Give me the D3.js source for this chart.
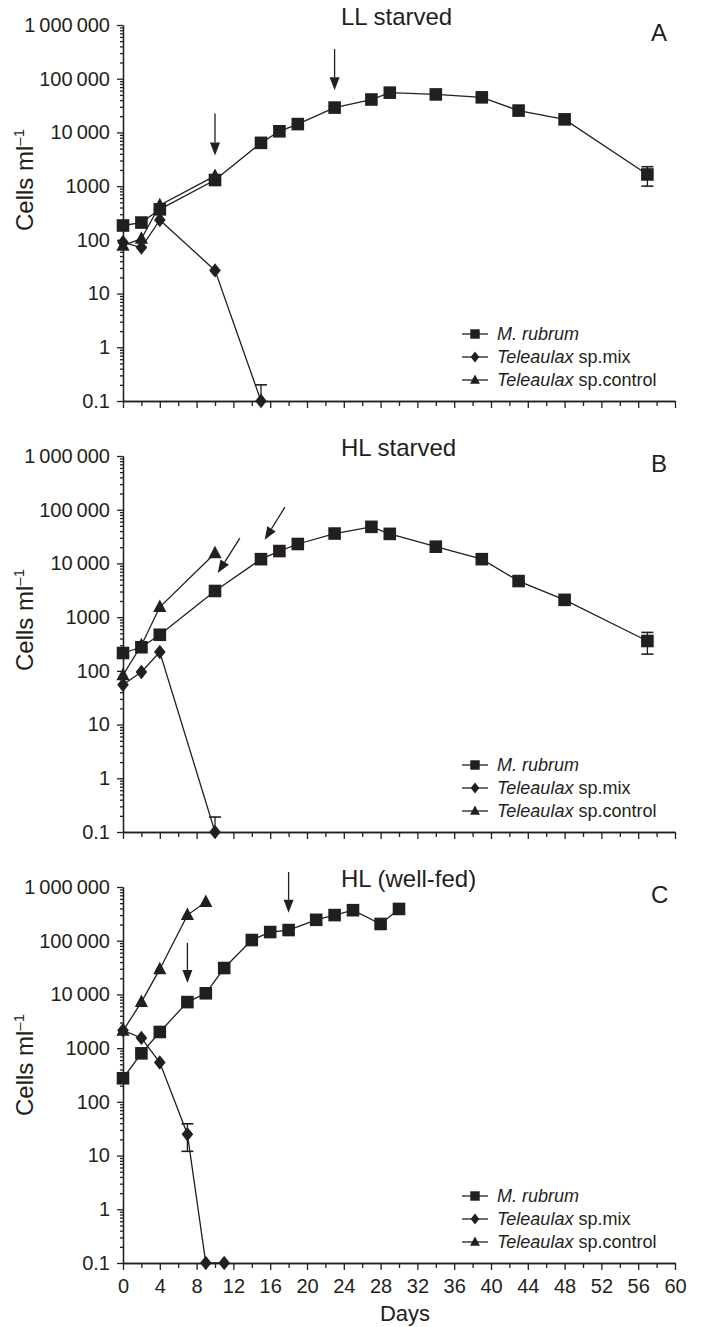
<!DOCTYPE html>
<html>
<head>
<meta charset="utf-8">
<script src="https://cdn.jsdelivr.net/npm/d3@7"></script>
<style>
  body { margin: 0; background: #fff; }
  text { font-family: "Liberation Sans", Arial, Helvetica, sans-serif; fill: #231f20; }
</style>
</head>
<body>
<div id="chart"></div>
<script>
// ---- data ----
var titles = ["LL starved", "HL starved", "HL (well-fed)"];
var letters = ["A", "B", "C"];
var legendNames = [["M. rubrum", ""], ["Teleaulax", " sp.mix"], ["Teleaulax", " sp.control"]];

var yTickValues = [0.1, 1, 10, 100, 1000, 10000, 100000, 1000000];
var yTickLabels = ["0.1", "1", "10", "100", "1000", "10\u2009000", "100\u2009000", "1\u2009000\u2009000"];
var xMajorTicks = [0, 4, 8, 12, 16, 20, 24, 28, 32, 36, 40, 44, 48, 52, 56, 60];
var xMinorTicks = [2, 6, 10, 14, 18, 22, 26, 30, 34, 38, 42, 46, 50, 54, 58];

// panel A: LL starved
var rubrumDaysA = [0, 2, 4, 10, 15, 17, 19, 23, 27, 29, 34, 39, 43, 48, 57];
var rubrumA     = [185, 210, 370, 1300, 6400, 10500, 14300, 29000, 41000, 55000, 51000, 45000, 25500, 17500, 1650];
var mixDaysA    = [0, 2, 4, 10, 15];
var mixA        = [90, 72, 235, 27, 0.1];
var controlDaysA = [0, 2, 4, 10];
var controlA     = [78, 105, 440, 1550];
var errA = [["rubrum", 57, 1000, 2300], ["mix", 15, null, 0.2]];
var arrowsA = [[10, 22500, 10, 3700], [23, 355000, 23, 61000]];

// panel B: HL starved
var rubrumDaysB = [0, 2, 4, 10, 15, 17, 19, 23, 27, 29, 34, 39, 43, 48, 57];
var rubrumB     = [215, 275, 470, 3070, 12000, 17000, 23000, 36000, 48000, 35500, 20500, 12000, 4700, 2100, 360];
var mixDaysB    = [0, 2, 4, 10];
var mixB        = [55, 95, 225, 0.1];
var controlDaysB = [0, 2, 4, 10];
var controlB     = [83, 300, 1540, 15500];
var errB = [["rubrum", 57, 205, 520], ["mix", 10, null, 0.19]];
var arrowsB = [[12.7, 29500, 10.3, 6600], [17.6, 112000, 15.4, 27500]];

// panel C: HL (well-fed)
var rubrumDaysC = [0, 2, 4, 7, 9, 11, 14, 16, 18, 21, 23, 25, 28, 30];
var rubrumC     = [275, 800, 2000, 7200, 10500, 31000, 103000, 145000, 158000, 245000, 300000, 370000, 205000, 390000];
var mixDaysC    = [0, 2, 4, 7, 9, 11];
var mixC        = [2150, 1550, 540, 25, 0.1, 0.1];
var controlDaysC = [0, 2, 4, 7, 9];
var controlC     = [2100, 7200, 29500, 300000, 525000];
var errC = [["mix", 7, 12, 39]];
var arrowsC = [[7, 91000, 7, 16300], [18, 1900000, 18, 330000]];

// ---- layout ----
var width = 702, height = 1327;
var ink = "#231f20";
var panelTops = [25, 456, 887];
var panelH = 376;
var labelCenters = [180, 620, 1065];

var panels = [
  {rubrum: [rubrumDaysA, rubrumA], mix: [mixDaysA, mixA], control: [controlDaysA, controlA], err: errA, arrows: arrowsA},
  {rubrum: [rubrumDaysB, rubrumB], mix: [mixDaysB, mixB], control: [controlDaysB, controlB], err: errB, arrows: arrowsB},
  {rubrum: [rubrumDaysC, rubrumC], mix: [mixDaysC, mixC], control: [controlDaysC, controlC], err: errC, arrows: arrowsC}
];

var svg = d3.select("#chart")
            .append("svg")
            .attr("width", width)
            .attr("height", height);

var x = d3.scaleLinear().domain([0, 60]).range([123, 675]);

var shapes = {
  rubrum: "M-6.3,-6.3h12.6v12.6h-12.6z",
  mix: "M0,-7.2L5.8,0L0,7.2L-5.8,0Z",
  control: "M0,-7.5L6.6,5L-6.6,5Z"
};

function zip(pair) {
  return pair[0].map(function(d, i) { return {day: d, v: pair[1][i]}; });
}

function styleAxis(g) {
  g.attr("color", ink)
   .attr("font-family", "'Liberation Sans', Arial, sans-serif")
   .attr("font-size", 20);
  g.selectAll("path, line").attr("stroke-width", 1.3);
}

function drawPanel(p, i) {
  var top = panelTops[i];
  var bottom = top + panelH;
  var y = d3.scaleLog().domain([0.1, 1e6]).range([bottom, top]);
  var g = svg.append("g");

  // minor log ticks
  var minors = [];
  yTickValues.slice(0, -1).forEach(function(d) {
    for (var k = 2; k < 10; k++) minors.push(d * k);
  });
  g.append("g")
   .attr("transform", "translate(" + x(0) + ",0)")
   .call(d3.axisLeft(y).tickValues(minors).tickFormat("").tickSize(3).tickSizeOuter(0))
   .call(styleAxis);

  g.append("g")
   .attr("transform", "translate(" + x(0) + ",0)")
   .call(d3.axisLeft(y).tickValues(yTickValues)
           .tickFormat(function(d, j) { return yTickLabels[j]; })
           .tickSize(6).tickPadding(7).tickSizeOuter(0))
   .call(styleAxis);

  // x axis
  g.append("g")
   .attr("transform", "translate(0," + bottom + ")")
   .call(d3.axisBottom(x).tickValues(xMinorTicks).tickFormat("").tickSize(5).tickSizeOuter(0))
   .call(styleAxis);
  g.append("g")
   .attr("transform", "translate(0," + bottom + ")")
   .call(d3.axisBottom(x).tickValues(xMajorTicks)
           .tickFormat(i === 2 ? d3.format("d") : "")
           .tickSize(7).tickPadding(9).tickSizeOuter(0))
   .call(styleAxis);

  // y label
  var yl = g.append("text")
            .attr("transform", "translate(33," + labelCenters[i] + ") rotate(-90)")
            .attr("text-anchor", "middle")
            .attr("font-size", 24);
  yl.append("tspan").text("Cells ml");
  yl.append("tspan").attr("font-size", 15).attr("dy", -9).text("\u20131");

  // title + letter
  g.append("text").attr("x", 341).attr("y", top).attr("font-size", 24).text(titles[i]);
  g.append("text").attr("x", 651).attr("y", top + 16).attr("font-size", 24).text(letters[i]);

  var line = d3.line()
               .x(function(d) { return x(d.day); })
               .y(function(d) { return y(d.v); });

  ["mix", "control", "rubrum"].forEach(function(key) {
    g.append("path")
     .datum(zip(p[key]))
     .attr("d", line)
     .attr("fill", "none")
     .attr("stroke", ink)
     .attr("stroke-width", 1.3);
  });

  // error bars
  p.err.forEach(function(e) {
    var cx = x(e[1]);
    var mid = zip(p[e[0]]).filter(function(d) { return d.day === e[1]; })[0];
    var lo = e[2] === null ? mid.v : e[2];
    g.append("line").attr("x1", cx).attr("x2", cx)
     .attr("y1", y(lo)).attr("y2", y(e[3]))
     .attr("stroke", ink).attr("stroke-width", 1.3);
    g.append("line").attr("x1", cx - 6).attr("x2", cx + 6)
     .attr("y1", y(e[3])).attr("y2", y(e[3]))
     .attr("stroke", ink).attr("stroke-width", 1.6);
    if (e[2] !== null) {
      g.append("line").attr("x1", cx - 6).attr("x2", cx + 6)
       .attr("y1", y(e[2])).attr("y2", y(e[2]))
       .attr("stroke", ink).attr("stroke-width", 1.6);
    }
  });

  // markers
  ["mix", "control", "rubrum"].forEach(function(key) {
    g.selectAll(".m-" + key)
     .data(zip(p[key]))
     .enter()
     .append("path")
     .attr("class", "m-" + key)
     .attr("d", shapes[key])
     .attr("fill", ink)
     .attr("transform", function(d) { return "translate(" + x(d.day) + "," + y(d.v) + ")"; });
  });

  // arrows
  p.arrows.forEach(function(a) {
    var x0 = x(a[0]), y0 = y(a[1]), x1 = x(a[2]), y1 = y(a[3]);
    var ang = Math.atan2(y1 - y0, x1 - x0);
    var len = 13, hw = 5;
    var bx = x1 - len * Math.cos(ang), by = y1 - len * Math.sin(ang);
    g.append("line").attr("x1", x0).attr("y1", y0).attr("x2", bx).attr("y2", by)
     .attr("stroke", ink).attr("stroke-width", 1.3);
    var px = -Math.sin(ang) * hw, py = Math.cos(ang) * hw;
    g.append("path")
     .attr("d", "M" + x1 + "," + y1 + "L" + (bx + px) + "," + (by + py) + "L" + (bx - px) + "," + (by - py) + "Z")
     .attr("fill", ink);
  });

  // legend
  var leg = g.append("g");
  ["rubrum", "mix", "control"].forEach(function(key, j) {
    var ly = bottom - 67 + j * 23;
    leg.append("line").attr("x1", 462).attr("x2", 488).attr("y1", ly).attr("y2", ly)
       .attr("stroke", ink).attr("stroke-width", 1.3);
    leg.append("path").attr("d", shapes[key]).attr("fill", ink)
       .attr("transform", "translate(475," + ly + ") scale(0.75)");
    var t = leg.append("text").attr("x", 497).attr("y", ly + 6).attr("font-size", 18);
    t.append("tspan").attr("font-style", "italic").text(legendNames[j][0]);
    t.append("tspan").text(legendNames[j][1]);
  });
}

panels.forEach(drawPanel);

svg.append("text")
   .attr("x", 405).attr("y", 1321)
   .attr("text-anchor", "middle")
   .attr("font-size", 22)
   .text("Days");
</script>
</body>
</html>
